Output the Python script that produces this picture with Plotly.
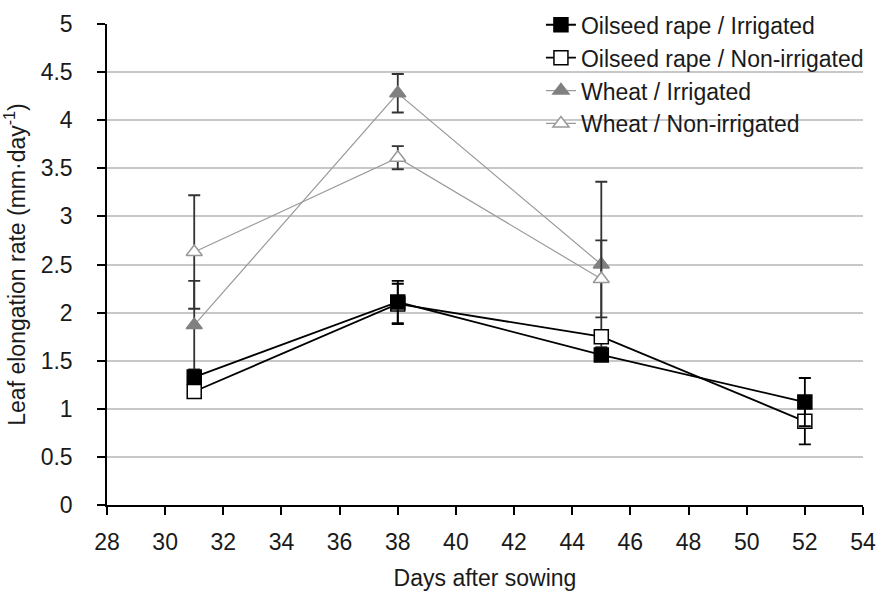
import plotly.graph_objects as go

days = [31, 38, 45, 52]
wheat_days = [31, 38, 45]

osr_irr = [1.33, 2.11, 1.56, 1.07]
osr_irr_err = [0.05, 0.22, 0.05, 0.25]
osr_non = [1.18, 2.09, 1.75, 0.87]
osr_non_err = [0.05, 0.21, 0.05, 0.24]
wheat_irr = [1.87, 4.28, 2.50]
wheat_irr_err = [0.46, 0.20, 0.86]
wheat_non = [2.63, 3.61, 2.35]
wheat_non_err = [0.59, 0.12, 0.40]

names = ["Oilseed rape / Irrigated", "Oilseed rape / Non-irrigated",
         "Wheat / Irrigated", "Wheat / Non-irrigated"]

y_ticks = [0, 0.5, 1, 1.5, 2, 2.5, 3, 3.5, 4, 4.5, 5]
x_ticks = list(range(28, 55, 2))

fig = go.Figure()

def add(x, y, err, name, lcolor, lwidth, msym, mcolor, mline, ecolor, rank):
    fig.add_trace(go.Scatter(
        x=x, y=y, name=name, mode="lines+markers",
        line=dict(color=lcolor, width=lwidth),
        marker=dict(symbol=msym, size=14, color=mcolor,
                    line=dict(color=mline, width=1.5)),
        error_y=dict(type="data", array=err, visible=True,
                     color=ecolor, thickness=1.8, width=6),
        legendrank=rank,
    ))

add(wheat_days, wheat_irr, wheat_irr_err, names[2], "#9a9a9a", 1.2,
    "triangle-up", "#808080", "#808080", "#333333", 3)
add(wheat_days, wheat_non, wheat_non_err, names[3], "#9a9a9a", 1.2,
    "triangle-up", "white", "#999999", "#333333", 4)
add(days, osr_non, osr_non_err, names[1], "black", 1.8,
    "square", "white", "black", "black", 2)
add(days, osr_irr, osr_irr_err, names[0], "black", 1.8,
    "square", "black", "black", "black", 1)

FS = 23
fig.update_layout(
    width=894, height=597,
    margin=dict(l=107, r=31, t=24, b=92, autoexpand=False),
    paper_bgcolor="white", plot_bgcolor="white",
    font=dict(family="Liberation Sans, Arial, sans-serif", size=FS, color="#1a1a1a"),
    legend=dict(x=0.574, y=1.043, xanchor="left", yanchor="top",
                bgcolor="rgba(0,0,0,0)", font=dict(size=FS, color="#1a1a1a"),
                tracegroupgap=0, itemwidth=30),
    showlegend=True,
)
fig.update_xaxes(range=[28, 54], tickvals=x_ticks, showgrid=False,
                 showline=True, linecolor="black", linewidth=1.5,
                 ticks="outside", ticklen=8, tickcolor="black", tickwidth=1.5,
                 ticklabelstandoff=8, tickfont=dict(size=FS),
                 zeroline=False,
                 title=dict(text="Days after sowing", font=dict(size=FS), standoff=16))
fig.update_yaxes(range=[0, 5], tickvals=y_ticks, ticktext=[str(v) for v in y_ticks],
                 showgrid=True, gridcolor="#c8c8c8", gridwidth=1.5,
                 showline=True, linecolor="black", linewidth=1.5,
                 ticks="outside", ticklen=8, tickcolor="black", tickwidth=1.5,
                 ticklabelstandoff=20, tickfont=dict(size=FS),
                 zeroline=False,
                 title=dict(text="Leaf elongation rate (mm·day<sup>-1</sup>)",
                            font=dict(size=FS), standoff=10))

fig.write_html("out.html")
